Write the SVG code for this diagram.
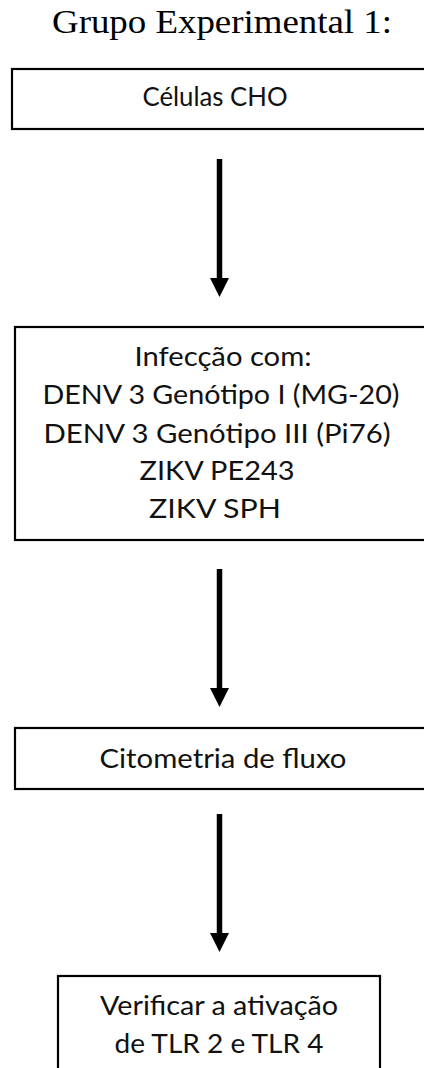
<svg xmlns="http://www.w3.org/2000/svg" width="424" height="1068" viewBox="0 0 424 1068">
<style>
.box{fill:#fff;stroke:#000;stroke-width:2.2}
.t{font-family:Lato,"Open Sans","Liberation Sans",sans-serif;font-size:27.5px;fill:#111;text-anchor:middle}
.title{font-family:"Liberation Serif","Times New Roman",serif;font-size:34px;fill:#000;text-anchor:middle}
.shaft{stroke:#000;stroke-width:5.5;fill:none}
</style>
<rect width="424" height="1068" fill="#fff"/>
<text class="title" x="222" y="33" textLength="340" lengthAdjust="spacingAndGlyphs">Grupo Experimental 1:</text>
<g id="connectors">
<g id="arrow1"><line class="shaft" x1="219.5" y1="159" x2="219.5" y2="280"/><polygon points="210,278 229,278 219.5,297"/></g>
<g id="arrow2"><line class="shaft" x1="219.5" y1="569" x2="219.5" y2="690"/><polygon points="210,688 229,688 219.5,707"/></g>
<g id="arrow3"><line class="shaft" x1="219.5" y1="814" x2="219.5" y2="935"/><polygon points="210,933 229,933 219.5,952"/></g>
</g>
<g id="node-celulas">
<rect class="box" x="12" y="69" width="420" height="60"/>
<text class="t" x="215" y="106" textLength="145" lengthAdjust="spacingAndGlyphs">Células CHO</text>
</g>
<g id="node-infeccao">
<rect class="box" x="15" y="327" width="420" height="213"/>
<text class="t" x="223" y="366" textLength="177" lengthAdjust="spacingAndGlyphs">Infecção com:</text>
<text class="t" x="221" y="404" textLength="357" lengthAdjust="spacingAndGlyphs">DENV 3 Genótipo I (MG-20)</text>
<text class="t" x="217" y="442.7" textLength="347" lengthAdjust="spacingAndGlyphs">DENV 3 Genótipo III (Pi76)</text>
<text class="t" x="217" y="480" textLength="155" lengthAdjust="spacingAndGlyphs">ZIKV PE243</text>
<text class="t" x="215" y="517.7" textLength="132" lengthAdjust="spacingAndGlyphs">ZIKV SPH</text>
</g>
<g id="node-citometria">
<rect class="box" x="15" y="728" width="420" height="61"/>
<text class="t" x="223" y="768" textLength="247" lengthAdjust="spacingAndGlyphs">Citometria de fluxo</text>
</g>
<g id="node-verificar">
<rect class="box" x="58" y="976" width="322" height="110"/>
<text class="t" x="219" y="1015" textLength="238" lengthAdjust="spacingAndGlyphs">Verificar a ativação</text>
<text class="t" x="219" y="1053" textLength="209" lengthAdjust="spacingAndGlyphs">de TLR 2 e TLR 4</text>
</g>
</svg>
